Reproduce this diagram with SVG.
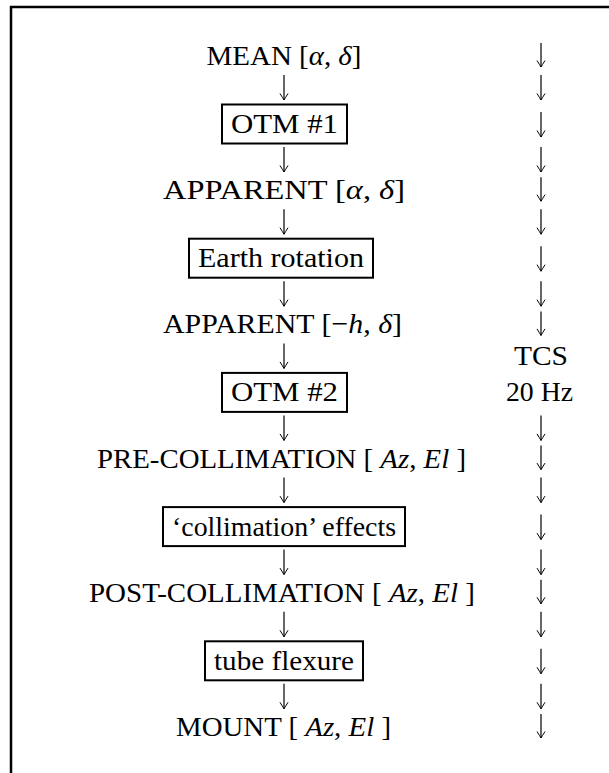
<svg xmlns="http://www.w3.org/2000/svg" width="609" height="773" viewBox="0 0 609 773">
<style>
  text { font-family: "Liberation Serif", "Times New Roman", serif; font-size: 28px; fill: #000; }
  .m { text-anchor: middle; }
  .i { font-style: italic; }
  .box { fill: #fff; stroke: #000; stroke-width: 2; }
  .arr { fill: none; stroke: #000; stroke-width: 1.2; marker-end: url(#head); }
  .frame { fill: none; stroke: #000; stroke-width: 2.5; }
</style>
<defs>
  <marker id="head" viewBox="-8 -5 9 10" markerWidth="9" markerHeight="10" refX="0" refY="0" orient="auto" markerUnits="userSpaceOnUse">
    <path d="M -6.5 -4 Q -2 -1.2 0 0 Q -2 1.2 -6.5 4" fill="none" stroke="#000" stroke-width="1"/>
  </marker>
</defs>
<rect width="609" height="773" fill="#fff"/>
<path class="frame" d="M 11 773 L 11 7 L 609 7"/>

<g id="mean"><text class="m" x="284" y="65" textLength="155" lengthAdjust="spacingAndGlyphs">MEAN [<tspan class="i">α</tspan>, <tspan class="i">δ</tspan>]</text></g>
<g id="otm1"><rect class="box" x="222" y="104.5" width="125" height="39"/><text class="m" x="284.5" y="133" textLength="107" lengthAdjust="spacingAndGlyphs">OTM #1</text></g>
<g id="apparent1"><text class="m" x="284" y="199" textLength="242" lengthAdjust="spacingAndGlyphs">APPARENT [<tspan class="i">α</tspan>, <tspan class="i">δ</tspan>]</text></g>
<g id="earth"><rect class="box" x="189" y="238.7" width="184" height="39"/><text class="m" x="281" y="267" textLength="166" lengthAdjust="spacingAndGlyphs">Earth rotation</text></g>
<g id="apparent2"><text class="m" x="282.5" y="333.4" textLength="239" lengthAdjust="spacingAndGlyphs">APPARENT [−<tspan class="i">h</tspan>, <tspan class="i">δ</tspan>]</text></g>
<g id="otm2"><rect class="box" x="222" y="372.9" width="125" height="39"/><text class="m" x="284.5" y="401.4" textLength="107" lengthAdjust="spacingAndGlyphs">OTM #2</text></g>
<g id="precoll"><text class="m" x="281.5" y="467.6" textLength="369" lengthAdjust="spacingAndGlyphs">PRE-COLLIMATION [ <tspan class="i">Az</tspan>, <tspan class="i">El</tspan> ]</text></g>
<g id="collimation"><rect class="box" x="163" y="507.1" width="242" height="39"/><text class="m" x="284" y="535.6" textLength="224" lengthAdjust="spacingAndGlyphs">‘collimation’ effects</text></g>
<g id="postcoll"><text class="m" x="282" y="601.8" textLength="386" lengthAdjust="spacingAndGlyphs">POST-COLLIMATION [ <tspan class="i">Az</tspan>, <tspan class="i">El</tspan> ]</text></g>
<g id="tube"><rect class="box" x="205" y="641.3" width="158" height="39"/><text class="m" x="284" y="669.8" textLength="140" lengthAdjust="spacingAndGlyphs">tube flexure</text></g>
<g id="mount"><text class="m" x="283.5" y="736" textLength="215" lengthAdjust="spacingAndGlyphs">MOUNT [ <tspan class="i">Az</tspan>, <tspan class="i">El</tspan> ]</text></g>

<g id="connectors">
  <path class="arr" d="M 284 75 V 100"/>
  <path class="arr" d="M 284 147 V 172"/>
  <path class="arr" d="M 284 209.2 V 234.2"/>
  <path class="arr" d="M 284 281.2 V 306.2"/>
  <path class="arr" d="M 284 343.4 V 368.4"/>
  <path class="arr" d="M 284 415.4 V 440.4"/>
  <path class="arr" d="M 284 477.6 V 502.6"/>
  <path class="arr" d="M 284 549.6 V 574.6"/>
  <path class="arr" d="M 284 611.8 V 636.8"/>
  <path class="arr" d="M 284 683.8 V 708.8"/>
</g>

<g id="tcs-column">
  <path class="arr" d="M 541 43 V 67"/>
  <path class="arr" d="M 541 75 V 100"/>
  <path class="arr" d="M 541 112 V 137"/>
  <path class="arr" d="M 541 147 V 172"/>
  <path class="arr" d="M 541 177.2 V 201.2"/>
  <path class="arr" d="M 541 209.2 V 234.2"/>
  <path class="arr" d="M 541 246.2 V 271.2"/>
  <path class="arr" d="M 541 281.2 V 306.2"/>
  <path class="arr" d="M 541 311.4 V 335.4"/>
  <text class="m" x="541" y="365.4" textLength="54" lengthAdjust="spacingAndGlyphs">TCS</text>
  <text class="m" x="539.5" y="401.4" textLength="67" lengthAdjust="spacingAndGlyphs">20 Hz</text>
  <path class="arr" d="M 541 415.4 V 440.4"/>
  <path class="arr" d="M 541 445.6 V 469.6"/>
  <path class="arr" d="M 541 477.6 V 502.6"/>
  <path class="arr" d="M 541 514.6 V 539.6"/>
  <path class="arr" d="M 541 549.6 V 574.6"/>
  <path class="arr" d="M 541 579.8 V 603.8"/>
  <path class="arr" d="M 541 611.8 V 636.8"/>
  <path class="arr" d="M 541 648.8 V 673.8"/>
  <path class="arr" d="M 541 683.8 V 708.8"/>
  <path class="arr" d="M 541 714 V 738"/>
</g>
</svg>
